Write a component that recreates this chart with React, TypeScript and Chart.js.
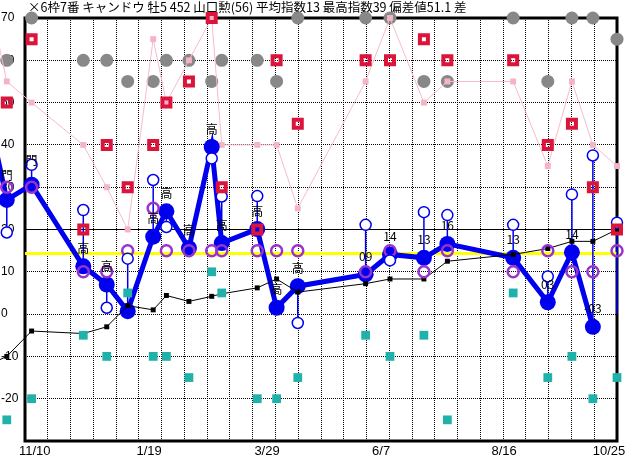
import React, { useEffect, useRef } from 'react';
import { Chart, registerables } from 'chart.js';

Chart.register(...registerables);

const titleText = '×6枠7番 キャンドウ 牡5 452 山口勲(56) 平均指数13 最高指数39 偏差値51.1 差';

// race positions on the x axis (grid units of two weeks, 0 = left frame); the first race lies off the picture
const raceX = [-1.8, -0.8, 0.29, 2.56, 3.59, 4.51, 5.63, 6.21, 7.2, 8.2, 8.64, 10.2, 11.05, 11.98, 14.96, 16.03, 17.52, 18.55, 21.44, 22.96, 24.02, 24.94, 26.0];
const indexValues: (number | null)[] = [52, 27, 30.6, 11.3, 7, 0.7, 18.3, 24.3, 15.6, 39.5, 16.8, 20.1, 1.5, 6.6, 9.4, 14.1, 13.3, 16.6, 13.3, 2.8, 14.6, -3, null];
const stemLowValues: (number | null)[] = [null, 27, 30.6, 11.3, 7, 0.7, 18.3, 24.3, 15.6, 39.5, 16.8, 20.1, 1.5, 6.6, 9.4, 14.1, 13.3, 16.6, 13.3, 2.8, 14.6, -3, 0];
const highValues: (number | null)[] = [null, 19.3, 35.3, 24.6, 1.5, 13.1, 31.7, 20.6, null, 36.8, 27.8, 27.9, null, -2.1, 21.1, 12.7, 24.1, 23.4, 21.1, 8.9, 28.3, 37.5, 21.6];
const purpleValues: (number | null)[] = [null, 30, 30, 10, 10, 15, 25, 15, 15, 15, 15, 15, 15, 15, 10, 15, 10, 15, 10, 15, 10, 10, 15];
const grayValues: (number | null)[] = [null, 60, 70, 60, 60, 55, 55, 60, 60, 55, 60, 60, 55, 70, 70, 70, 55, 55, 70, 55, 70, 70, 65];
const redValues: (number | null)[] = [null, 50, 65, 20, 40, 30, 40, 50, 55, 70, 30, 20, 60, 45, 60, 60, 65, 60, 60, 40, 45, 30, 20];
const pinkValues: (number | null)[] = [80, 55, 50, 40, 30, 20, 65, 50, 60, 70, 40, 40, 40, 25, 55, 70, 50, 55, 55, 35, 55, 40, 35];
const blackValues: (number | null)[] = [-12.5, -10, -4, -4.6, -3, 2, 1, 4.4, 3, 4.2, 4.8, 6.2, 8.3, 5.2, 7.2, 8.3, 8.3, 12.5, 14.1, 15.5, 17.2, 17.2, 20];
const tealValues: (number | null)[] = [null, -25, -20, -5, -10, 5, -10, -10, -15, 10, 5, -20, -20, -15, -5, -10, -5, -25, 5, -15, -10, -20, -15];
const raceLabels = ['', '門', '門', '高', '高', '', '高', '高', '高', '高', '高', '高', '高', '高', '09', '14', '13', '16', '13', '03', '14', '-03', ''];

const averageLine = 14.3;
const baseLine = 20;

const xTickPos = [0.43, 5.45, 10.63, 15.64, 21.04, 25.65];
const xTickLabels = ['11/10', '1/19', '3/29', '6/7', '8/16', '10/25'];
const xMin = 0;
const xMax = 26;
const yMin = -30;
const yMax = 70;

const BLUE = '#0000ee';

export default function App() {
  const ref = useRef<HTMLCanvasElement>(null);

  useEffect(() => {
    const canvas = ref.current;
    if (!canvas) return;

    const pts = (vals: (number | null)[]) =>
      raceX.map((x, i) => ({ x, y: vals[i] })).filter((p) => p.y !== null && p.y !== undefined);

    const stemData: { x: number; y: number | null }[] = [];
    raceX.forEach((x, i) => {
      const hi = highValues[i];
      const lo = stemLowValues[i];
      if (hi !== null && lo !== null) {
        stemData.push({ x, y: hi }, { x, y: lo }, { x, y: null });
      }
    });

    const decor = {
      id: 'decor',
      beforeDraw(chart: any) {
        const ctx = chart.ctx;
        ctx.save();
        ctx.fillStyle = '#000';
        ctx.font = '12.5px "Noto Sans CJK JP"';
        ctx.textAlign = 'left';
        ctx.textBaseline = 'middle';
        ctx.fillText(titleText, 28, 7);
        ctx.restore();
      },
      beforeDatasetsDraw(chart: any) {
        const { ctx, chartArea: a } = chart;
        ctx.save();
        ctx.strokeStyle = '#000';
        ctx.lineWidth = 3;
        ctx.strokeRect(a.left, a.top, a.right - a.left, a.bottom - a.top);
        ctx.restore();
        // let markers that sit just outside the frame be drawn as well
        chart.$savedArea = a;
        chart.chartArea = { left: 0, top: 0, right: chart.width, bottom: chart.height, width: chart.width, height: chart.height };
      },
      afterDatasetsDraw(chart: any) {
        if (chart.$savedArea) chart.chartArea = chart.$savedArea;
        const { ctx, scales } = chart;
        ctx.save();
        ctx.fillStyle = '#000';
        ctx.font = '12px "Noto Sans CJK JP"';
        ctx.textAlign = 'center';
        ctx.textBaseline = 'middle';
        raceLabels.forEach((t, i) => {
          const v = indexValues[i];
          if (!t || v === null) return;
          const x = scales.x.getPixelForValue(raceX[i]);
          const y = scales.y.getPixelForValue(v) - (t === '門' ? 24 : 18);
          ctx.fillText(t, x, y);
        });
        ctx.restore();
      },
    };

    const chart = new Chart(canvas, {
      type: 'line',
      data: {
        datasets: [
          { label: 'red', data: pts(redValues), showLine: false, pointStyle: 'rect', pointRadius: 5.66, pointBorderWidth: 4, pointBorderColor: '#dc143c', pointBackgroundColor: 'rgba(0,0,0,0)', order: 0, clip: false },
          { label: 'high', data: pts(highValues), showLine: false, pointRadius: 5.5, pointBorderWidth: 1.5, pointBorderColor: BLUE, pointBackgroundColor: '#ffffff', order: 1, clip: false },
          { label: 'purple', data: pts(purpleValues), showLine: false, pointRadius: 5.5, pointBorderWidth: 2.5, pointBorderColor: '#9933cc', pointBackgroundColor: 'rgba(0,0,0,0)', order: 2, clip: false },
          { label: 'teal', data: pts(tealValues), showLine: false, pointStyle: 'rect', pointRadius: 6.2, pointBorderWidth: 0, pointBackgroundColor: '#20b2aa', order: 3, clip: false },
          { label: 'black', data: pts(blackValues), borderColor: '#000', borderWidth: 1, pointStyle: 'rect', pointRadius: 3.5, pointBorderWidth: 0, pointBackgroundColor: '#000', order: 4, clip: false },
          { label: 'index', data: pts(indexValues), borderColor: BLUE, borderWidth: 5, pointRadius: 8, pointBorderWidth: 0, pointBackgroundColor: BLUE, order: 5, clip: false },
          { label: 'stem', data: stemData, borderColor: BLUE, borderWidth: 1.5, pointRadius: 0, spanGaps: false, order: 6, clip: false },
          { label: 'pink', data: pts(pinkValues), borderColor: '#f6bccb', borderWidth: 1, pointStyle: 'rect', pointRadius: 4.2, pointBorderWidth: 0, pointBackgroundColor: '#f4b4c4', order: 7, clip: false },
          { label: 'gray', data: pts(grayValues), showLine: false, pointRadius: 6.5, pointBorderWidth: 0, pointBackgroundColor: '#888888', order: 8, clip: false },
          { label: 'base', data: [{ x: xMin, y: baseLine }, { x: xMax, y: baseLine }], borderColor: '#000', borderWidth: 1, pointRadius: 0, order: 9, clip: false },
          { label: 'avg', data: [{ x: xMin, y: averageLine }, { x: xMax, y: averageLine }], borderColor: '#ffff00', borderWidth: 3, pointRadius: 0, order: 10, clip: false },
        ] as any,
      },
      options: {
        responsive: false,
        animation: false,
        devicePixelRatio: 1,
        events: [],
        layout: { padding: { top: 18, right: 15, left: 1, bottom: 0 } },
        plugins: { legend: { display: false }, tooltip: { enabled: false }, title: { display: false } },
        elements: { line: { tension: 0 } },
        scales: {
          x: {
            type: 'linear',
            bounds: 'data',
            afterDataLimits: (axis: any) => { axis.min = xMin; axis.max = xMax; },
            afterBuildTicks: (axis: any) => {
              const vals: number[] = [];
              for (let v = xMin; v <= xMax; v++) vals.push(v);
              xTickPos.forEach((p) => vals.push(p));
              vals.sort((a, b) => a - b);
              axis.ticks = vals.map((v) => ({ value: v }));
            },
            afterFit: (axis: any) => { axis.height = 19; },
            grid: {
              color: (c: any) => (c.tick && Number.isInteger(c.tick.value) ? '#000000' : 'rgba(0,0,0,0)'),
              lineWidth: 1,
              drawTicks: false,
            },
            border: { display: false, dash: [1, 1] },
            ticks: {
              autoSkip: false,
              maxRotation: 0,
              padding: 3,
              color: '#000',
              font: { family: '"Liberation Sans"', size: 13 },
              callback: (value: any) => {
                const idx = xTickPos.indexOf(Number(value));
                return idx >= 0 ? xTickLabels[idx] : '';
              },
            },
          },
          y: {
            type: 'linear',
            min: yMin,
            max: yMax,
            afterFit: (axis: any) => { axis.width = 24; },
            grid: { color: '#000000', lineWidth: 1, drawTicks: false },
            border: { display: false, dash: [1, 1] },
            ticks: {
              stepSize: 10,
              crossAlign: 'far',
              padding: 0,
              color: '#000',
              font: { family: '"Liberation Sans"', size: 12 },
              callback: (value: any) => (Number(value) === yMin ? '' : String(value)),
            },
          },
        },
      } as any,
      plugins: [decor],
    });

    return () => chart.destroy();
  }, []);

  return (
    <div style={{ position: 'absolute', left: 0, top: 0, width: 632, height: 460, background: '#fff' }}>
      <canvas ref={ref} width={632} height={460} style={{ display: 'block' }} />
    </div>
  );
}
